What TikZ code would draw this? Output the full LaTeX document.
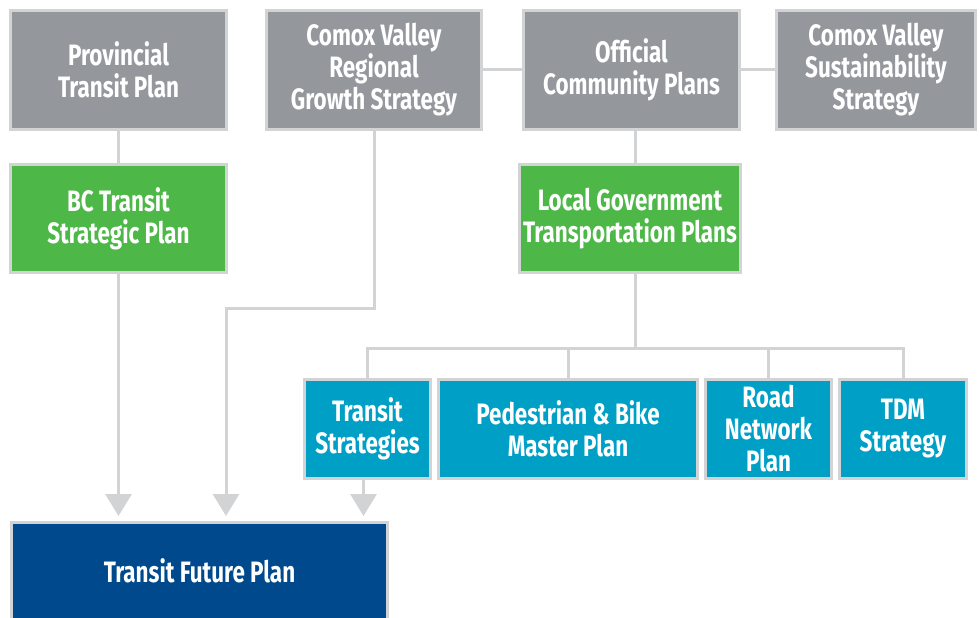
\documentclass[tikz,border=0pt]{standalone}
\usepackage{fontspec}
\setmainfont[FakeStretch=0.76]{Fira Sans}
\usetikzlibrary{arrows.meta}

\definecolor{planGrey}{HTML}{94989D}
\definecolor{planGreen}{HTML}{4DB848}
\definecolor{planTeal}{HTML}{00A0C6}
\definecolor{planNavy}{HTML}{00498C}
\definecolor{linkGrey}{HTML}{D1D3D4}

\tikzset{
  plan/.style={draw=linkGrey, line width=3pt, text=white, align=center,
    font=\fontsize{29.5}{32}\selectfont\bfseries, inner sep=0pt},
  greyplan/.style={plan, fill=planGrey, minimum height=119pt},
  greenplan/.style={plan, fill=planGreen, minimum height=108pt},
  tealplan/.style={plan, fill=planTeal, minimum height=99pt},
  navyplan/.style={plan, fill=planNavy, minimum height=97pt},
  link/.style={draw=linkGrey, line width=3pt},
  feed/.style={link, -{Triangle[width=26pt,length=22pt]}, shorten >=5pt}
}

\begin{document}
\begin{tikzpicture}[x=1pt,y=-1pt]

\clip (0,0) rectangle (980,618);

% Top row of plans
\node[greyplan, minimum width=216pt] (prov) at (118.5,70) {Provincial\\Transit Plan};
\node[greyplan, minimum width=215pt] (cvrgs) at (374,70) {Comox Valley\\Regional\\Growth Strategy};
\node[greyplan, minimum width=216pt] (ocp) at (631.5,70) {Official\\Community Plans};
\node[greyplan, minimum width=199pt] (cvss) at (876,70) {Comox Valley\\Sustainability\\Strategy};

% Second row
\node[greenplan, minimum width=216pt] (bc) at (118.5,218.5) {BC Transit\\Strategic Plan};
\node[greenplan, minimum width=221pt] (lgtp) at (630,218.5) {Local Government\\Transportation Plans};

% Local plans
\node[tealplan, minimum width=126pt] (ts) at (367.5,429) {Transit\\Strategies};
\node[tealplan, minimum width=259pt] (pbm) at (568,429) {Pedestrian \& Bike\\Master Plan};
\node[tealplan, minimum width=126pt] (rnp) at (768.5,429) {Road\\Network\\Plan};
\node[tealplan, minimum width=127pt] (tdm) at (903,429) {TDM\\Strategy};

% Result
\node[navyplan, minimum width=376pt] (tfp) at (199.5,571) {Transit Future Plan};

% Helper points
\coordinate (trunk) at (635,0);
\coordinate (bus) at (635,348);
\coordinate (bend) at (226,308);

% Links between top plans
\draw[link] (cvrgs.east) -- (ocp.west);
\draw[link] (ocp.east) -- (cvss.west);
\draw[link] (prov.south) -- (bc.north);
\draw[link] (trunk |- ocp.south) -- (trunk |- lgtp.north);

% Tree of local plans
\draw[link] (trunk |- lgtp.south) -- (bus);
\draw[link] (ts.north) |- (bus) -| (tdm.north);
\draw[link] (bus -| pbm.north) -- (pbm.north);
\draw[link] (bus -| rnp.north) -- (rnp.north);

% Arrows into the Transit Future Plan
\draw[feed] (bc.south) -- (bc.south |- tfp.north);
\draw[feed] (cvrgs.south) |- (bend) -- (bend |- tfp.north);
\draw[feed] ([xshift=-4pt]ts.south) -- ([xshift=-4pt]ts.south |- tfp.north);

\end{tikzpicture}
\end{document}
